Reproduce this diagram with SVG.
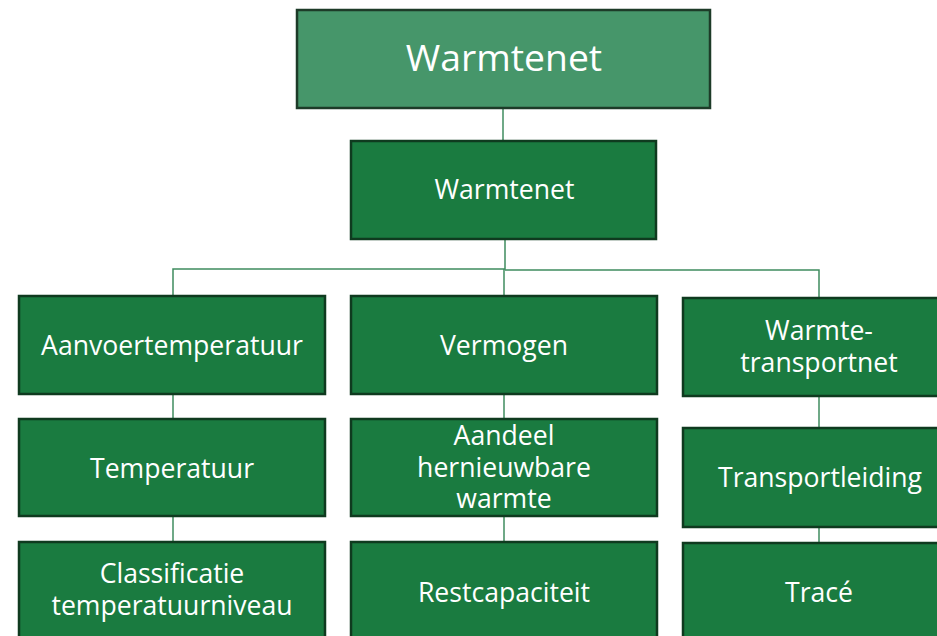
<svg xmlns="http://www.w3.org/2000/svg" width="937" height="636" viewBox="0 0 937 636">
<style>
.box{fill:#1a7b40;stroke:#0f3a1f;stroke-width:2.5}
.top{fill:#46966a;stroke:#1d3b28;stroke-width:2.5}
.t{font-family:"Open Sans","Noto Sans",sans-serif;font-size:26.6px;fill:#ffffff;text-anchor:middle}
.tt{font-family:"Open Sans","Noto Sans",sans-serif;font-size:37.3px;fill:#ffffff;text-anchor:middle}
.c{fill:none;stroke:#3f8c5f;stroke-width:1.5}
</style>
<rect width="937" height="636" fill="#ffffff"/>
<g id="connectors">
<line class="c" x1="503" y1="108" x2="503" y2="141"/>
<polyline class="c" points="505,239 505,269 173,269 173,296"/>
<line class="c" x1="504" y1="269" x2="504" y2="296"/>
<polyline class="c" points="505,270 819,270 819,298"/>
<line class="c" x1="173" y1="394" x2="173" y2="419"/>
<line class="c" x1="173" y1="516" x2="173" y2="542"/>
<line class="c" x1="504" y1="394" x2="504" y2="419"/>
<line class="c" x1="504" y1="516" x2="504" y2="542"/>
<line class="c" x1="819" y1="396" x2="819" y2="428"/>
<line class="c" x1="819" y1="527" x2="819" y2="543"/>
</g>
<g id="n-root"><rect class="top" x="297" y="10" width="413" height="98"/><text class="tt" x="504" y="71">Warmtenet</text></g>
<g id="n-warmtenet"><rect class="box" x="351" y="141" width="305" height="98"/><text class="t" x="504.5" y="199">Warmtenet</text></g>
<g id="n-aanvoer"><rect class="box" x="19" y="296" width="306" height="98"/><text class="t" x="172" y="355">Aanvoertemperatuur</text></g>
<g id="n-vermogen"><rect class="box" x="351" y="296" width="306" height="98"/><text class="t" x="504" y="355">Vermogen</text></g>
<g id="n-transportnet"><rect class="box" x="683" y="298" width="260" height="98"/><text class="t" x="819" y="340">Warmte-</text><text class="t" x="819" y="372">transportnet</text></g>
<g id="n-temperatuur"><rect class="box" x="19" y="419" width="306" height="97"/><text class="t" x="172" y="478">Temperatuur</text></g>
<g id="n-aandeel"><rect class="box" x="351" y="419" width="306" height="97"/><text class="t" x="504" y="445">Aandeel</text><text class="t" x="504" y="477">hernieuwbare</text><text class="t" x="504" y="508">warmte</text></g>
<g id="n-transportleiding"><rect class="box" x="683" y="428" width="260" height="99"/><text class="t" x="820" y="487">Transportleiding</text></g>
<g id="n-classificatie"><rect class="box" x="19" y="542" width="306" height="100"/><text class="t" x="172" y="583">Classificatie</text><text class="t" x="172" y="615">temperatuurniveau</text></g>
<g id="n-restcapaciteit"><rect class="box" x="351" y="542" width="306" height="100"/><text class="t" x="504" y="602">Restcapaciteit</text></g>
<g id="n-trace"><rect class="box" x="683" y="543" width="260" height="100"/><text class="t" x="819" y="602">Tracé</text></g>
</svg>
